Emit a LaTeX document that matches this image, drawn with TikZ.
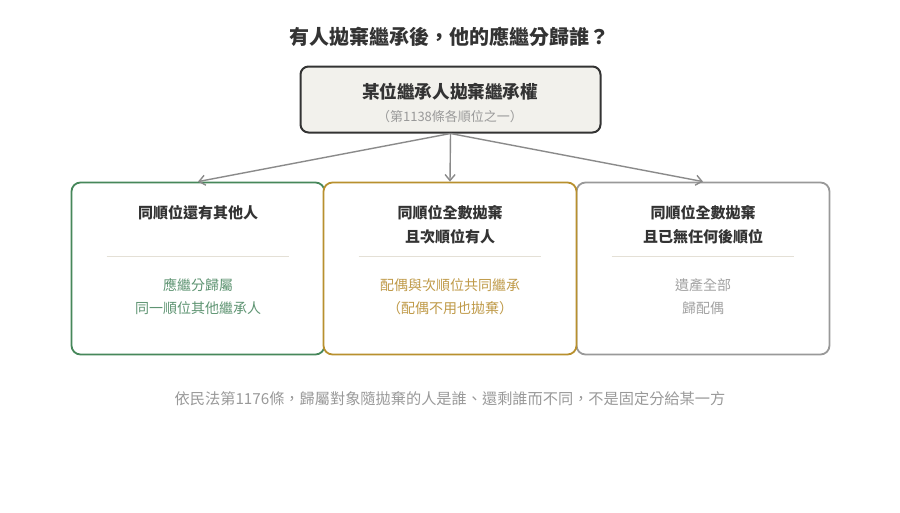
\documentclass[tikz,border=0pt]{standalone}
\usepackage{fontspec}
\setmainfont{Noto Sans CJK TC}
\usetikzlibrary{arrows.meta,calc}
\definecolor{ink}{HTML}{333333}
\definecolor{paper}{HTML}{F2F1EC}
\definecolor{wire}{HTML}{8A8A8A}
\definecolor{rule}{HTML}{E4E0D6}
\definecolor{grn}{HTML}{46875A}
\definecolor{grntxt}{HTML}{5E9472}
\definecolor{gld}{HTML}{B8902E}
\definecolor{gldtxt}{HTML}{BF9A48}
\definecolor{gry}{HTML}{999999}
\definecolor{grytxt}{HTML}{A2A2A2}
\definecolor{note}{HTML}{999999}
\tikzset{
  casebox/.style={draw=#1, line width=1.8pt, rounded corners=9pt, fill=white,
    minimum width=253pt, minimum height=172pt},
  head/.style={font=\bfseries\fontsize{15}{24}\selectfont, text=ink, align=center},
  body/.style={font=\fontsize{14}{23}\selectfont, text=#1, align=center},
  sepline/.style={draw=rule, line width=1pt},
  branch/.style={draw=wire, line width=1.4pt, -{Straight Barb[length=6pt,width=10pt]}}
}
\begin{document}
\begin{tikzpicture}[x=1pt,y=-1pt]
\useasboundingbox (0,0) rectangle (900,512);
% title
\node[font=\bfseries\fontsize{20}{24}\selectfont, text=ink] (title) at (449,37) {有人拋棄繼承後，他的應繼分歸誰？};
% source
\node[draw=ink, line width=2pt, rounded corners=8pt, fill=paper,
  minimum width=300pt, minimum height=66pt] (src) at (450.5,99.5) {};
\node[font=\bfseries\fontsize{17.6}{20}\selectfont, text=ink] (srcname) at (450,92) {某位繼承人拋棄繼承權};
\node[font=\fontsize{13}{16}\selectfont, text=note] (srcnote) at (450,117) {（第1138條各順位之一）};
% three cases
\node[casebox=grn] (same) at (198,268.5) {};
\node[casebox=gry] (none) at (703,268.5) {};
\node[casebox=gld] (next) at (450,268.5) {};
\node[head] (samehead) at (198,213) {同順位還有其他人};
\node[head] (nexthead) at (450,225) {同順位全數拋棄\\且次順位有人};
\node[head] (nonehead) at (703,225) {同順位全數拋棄\\且已無任何後順位};
\draw[sepline] ($(same.west)+(36,-12.5)$) -- ($(same.east)+(-36,-12.5)$);
\draw[sepline] ($(next.west)+(36,-12.5)$) -- ($(next.east)+(-36,-12.5)$);
\draw[sepline] ($(none.west)+(36,-12.5)$) -- ($(none.east)+(-36,-12.5)$);
\node[body=grntxt] (samebody) at (198,296.5) {應繼分歸屬\\同一順位其他繼承人};
\node[body=gldtxt] (nextbody) at (450,296.5) {配偶與次順位共同繼承\\（配偶不用也拋棄）};
\node[body=grytxt] (nonebody) at (703,296.5) {遺產全部\\歸配偶};
% branches
\draw[branch] (src.south) -- (same.north);
\draw[branch] (src.south) -- (next.north);
\draw[branch] (src.south) -- (none.north);
% footnote
\node[font=\fontsize{15.2}{18}\selectfont, text=note] (foot) at (450,399) {依民法第1176條，歸屬對象隨拋棄的人是誰、還剩誰而不同，不是固定分給某一方};
\end{tikzpicture}
\end{document}
